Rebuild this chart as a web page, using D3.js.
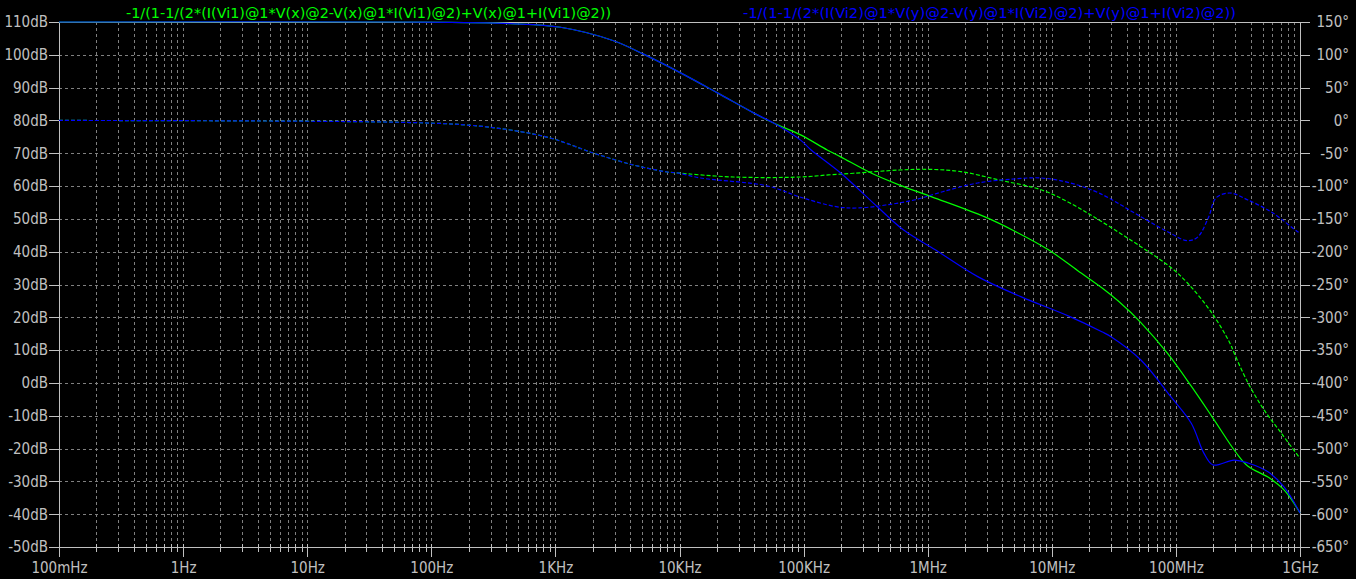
<!DOCTYPE html>
<html>
<head>
<meta charset="utf-8">
<script src="https://cdn.jsdelivr.net/npm/d3@7"></script>
<style>
  html, body { margin: 0; padding: 0; background: #000; }
  svg { display: block; }
  text { font-family: "DejaVu Sans Condensed", "DejaVu Sans", sans-serif; }
</style>
</head>
<body>
<svg id="chart" width="1356" height="579"></svg>
<script>
// ---------- data ----------
const titleGreen = "-1/(1-1/(2*(I(Vi1)@1*V(x)@2-V(x)@1*I(Vi1)@2)+V(x)@1+I(Vi1)@2))";
const titleBlue  = "-1/(1-1/(2*(I(Vi2)@1*V(y)@2-V(y)@1*I(Vi2)@2)+V(y)@1+I(Vi2)@2))";

const freqTicks = [0.1, 1, 10, 100, 1e3, 1e4, 1e5, 1e6, 1e7, 1e8, 1e9];
const freqTickLabels = ["100mHz", "1Hz", "10Hz", "100Hz", "1KHz", "10KHz", "100KHz", "1MHz", "10MHz", "100MHz", "1GHz"];
const dbTicks = [110, 100, 90, 80, 70, 60, 50, 40, 30, 20, 10, 0, -10, -20, -30, -40, -50];
const degTicks = [150, 100, 50, 0, -50, -100, -150, -200, -250, -300, -350, -400, -450, -500, -550, -600, -650];

// green magnitude (dB)
const greenMagF  = [0.1, 56, 434, 1100, 2940, 5130, 10200, 20200, 39500, 57300, 94600, 155000, 199000, 353000, 594000, 1080000, 2890000, 4940000, 9470000, 16200000, 25300000, 34700000, 52200000, 86000000, 133000000, 202000000, 305000000, 381000000, 552000000, 743000000, 1e9];
const greenMagDb = [110, 110, 109.5, 108.4, 104.3, 100.2, 94.5, 88.4, 82.3, 79.2, 75.6, 71.0, 68.9, 63.9, 60.3, 56.7, 50.6, 46.4, 40.5, 34.2, 29.0, 24.8, 18.4, 8.9, -1.0, -11.1, -21.2, -25.4, -28.7, -32.6, -39.6];

// green phase (deg)
const greenPhF   = [0.1, 56, 195, 434, 912, 2020, 4250, 8000, 9600, 27200, 94600, 158000, 253000, 594000, 1020000, 1850000, 3780000, 8300000, 14000000, 24000000, 52200000, 89500000, 124000000, 195000000, 272000000, 294000000, 381000000, 513000000, 703000000, 1e9];
const greenPhDeg = [0, -2.8, -7, -14.6, -26.8, -49.6, -67.9, -78.6, -80, -86.2, -86.2, -83, -80.5, -75.5, -74.5, -78, -90.8, -106, -125.8, -151.7, -192.4, -222.9, -247.7, -293.5, -339, -354, -400, -441, -476, -515];

// blue magnitude (dB)
const blueMagF  = [0.1, 56, 434, 1100, 2940, 5130, 10200, 20200, 39500, 57300, 94600, 115000, 199000, 403000, 640000, 1160000, 2530000, 5620000, 14000000, 25300000, 30000000, 52200000, 91000000, 133000000, 168000000, 199000000, 294000000, 381000000, 552000000, 743000000, 1e9];
const blueMagDb = [110, 110, 109.5, 108.4, 104.3, 100.2, 94.5, 88.4, 82.3, 79.2, 74.0, 71.0, 64.0, 53.3, 46.6, 40.5, 32.4, 26.3, 20.2, 15.6, 14.1, 7.0, -4.2, -12.3, -21.4, -25.0, -23.5, -24.4, -27.1, -31.7, -39.6];

// blue phase (deg)
const bluePhF   = [0.1, 56, 195, 434, 912, 2020, 4250, 8000, 9600, 14800, 51300, 94600, 183000, 272000, 458000, 778000, 1320000, 2530000, 4940000, 8300000, 14100000, 24000000, 52200000, 89500000, 124000000, 150000000, 184000000, 210000000, 272000000, 381000000, 605000000, 955000000, 1e9];
const bluePhDeg = [0, -2.8, -7, -14.6, -26.8, -49.6, -67.9, -78.6, -80, -87.7, -99.9, -117, -131.4, -133.4, -128.9, -121.2, -108.6, -95.3, -89.2, -87.7, -95.3, -110.6, -146.7, -171.5, -183.3, -177.6, -146.7, -118.2, -110.6, -121.2, -141, -169.5, -171.5];

// ---------- layout ----------
const L = 59, R = 1300, T = 22, B = 547;
const GREEN = "#00ff00", BLUE = "#0000ff", AXIS = "#c0c0c0", GRID = "#808080", TEXT = "#c0c0c0";

const svg = d3.select("#chart");
svg.append("rect").attr("width", 1356).attr("height", 579).attr("fill", "#000");

const x = d3.scaleLog().domain([0.1, 1e9]).range([L, R]);
const yDb = d3.scaleLinear().domain([-50, 110]).range([B, T]);
const yDeg = d3.scaleLinear().domain([-650, 150]).range([B, T]);

// minor frequency positions
const minorF = [];
for (let e = -1; e < 9; e++) for (let m = 2; m <= 9; m++) minorF.push(m * Math.pow(10, e));

// ---------- grid ----------
const grid = svg.append("g").attr("stroke", GRID).attr("stroke-width", 1)
  .attr("stroke-dasharray", "3,3").attr("shape-rendering", "crispEdges");
grid.selectAll("line.h").data(dbTicks.filter(d => d > -50 && d < 110)).join("line")
  .attr("x1", L).attr("x2", R)
  .attr("y1", d => Math.round(yDb(d)) + 0.5).attr("y2", d => Math.round(yDb(d)) + 0.5);
grid.selectAll("line.v").data(freqTicks.slice(1, -1).concat(minorF)).join("line")
  .attr("y1", T).attr("y2", B)
  .attr("x1", d => Math.round(x(d)) + 0.5).attr("x2", d => Math.round(x(d)) + 0.5);

// ---------- axes ----------
const fontSize = 15;
function styleAxis(g) {
  g.selectAll("path.domain").remove();
  g.selectAll(".tick line").attr("stroke", AXIS).attr("shape-rendering", "crispEdges");
  g.selectAll(".tick text").attr("fill", TEXT).style("font-size", fontSize + "px")
    .style("font-family", '"DejaVu Sans Condensed", "DejaVu Sans", sans-serif');
}

// left (dB)
const gL = svg.append("g").attr("transform", `translate(${L},0)`)
  .call(d3.axisLeft(yDb).tickValues(dbTicks).tickSize(10).tickPadding(1).tickFormat(d => d + "dB"));
styleAxis(gL);

// right (deg)
const gR = svg.append("g").attr("transform", `translate(${R},0)`)
  .call(d3.axisRight(yDeg).tickValues(degTicks).tickSize(10).tickPadding(1).tickFormat(d => d + "°"));
styleAxis(gR);
gR.selectAll(".tick text").attr("text-anchor", "end").attr("x", 49);

// bottom: minor ticks
const gBm = svg.append("g").attr("transform", `translate(0,${B - 3})`)
  .call(d3.axisBottom(x).tickValues(minorF).tickSize(8).tickFormat(""));
styleAxis(gBm);
// bottom: major ticks + labels
const gB = svg.append("g").attr("transform", `translate(0,${B - 3})`)
  .call(d3.axisBottom(x).tickValues(freqTicks).tickSize(13).tickFormat((d, i) => freqTickLabels[i]));
styleAxis(gB);
gB.selectAll(".tick text").attr("y", 29).attr("dy", null);

// frame
const frame = svg.append("g").attr("stroke", AXIS).attr("stroke-width", 1).attr("shape-rendering", "crispEdges");
frame.append("line").attr("x1", L).attr("x2", R).attr("y1", T + 0.5).attr("y2", T + 0.5);
frame.append("line").attr("x1", L).attr("x2", R).attr("y1", B + 0.5).attr("y2", B + 0.5);
frame.append("line").attr("x1", L + 0.5).attr("x2", L + 0.5).attr("y1", T).attr("y2", B);
frame.append("line").attr("x1", R + 0.5).attr("x2", R + 0.5).attr("y1", T).attr("y2", B);

// ---------- curves ----------
const plot = svg.append("g");
function drawSeries(fs, vs, yScale, color, dashed) {
  const pts = fs.map((f, i) => [f, vs[i]]);
  const line = d3.line().x(d => x(d[0])).y(d => yScale(d[1])).curve(d3.curveCatmullRom.alpha(0.5));
  plot.append("path").attr("d", line(pts)).attr("fill", "none")
    .attr("stroke", color).attr("stroke-width", 1.2)
    .attr("stroke-dasharray", dashed ? "4,2" : null);
}
drawSeries(greenPhF, greenPhDeg, yDeg, GREEN, true);
drawSeries(greenMagF, greenMagDb, yDb, GREEN, false);
drawSeries(bluePhF, bluePhDeg, yDeg, BLUE, true);
drawSeries(blueMagF, blueMagDb, yDb, BLUE, false);

// ---------- titles ----------
svg.append("text").attr("x", 126).attr("y", 18).attr("fill", GREEN)
  .attr("textLength", 485).attr("lengthAdjust", "spacingAndGlyphs")
  .style("font-size", "14px").text(titleGreen);
svg.append("text").attr("x", 743).attr("y", 18).attr("fill", BLUE)
  .attr("textLength", 493).attr("lengthAdjust", "spacingAndGlyphs")
  .style("font-size", "14px").text(titleBlue);
</script>
</body>
</html>
